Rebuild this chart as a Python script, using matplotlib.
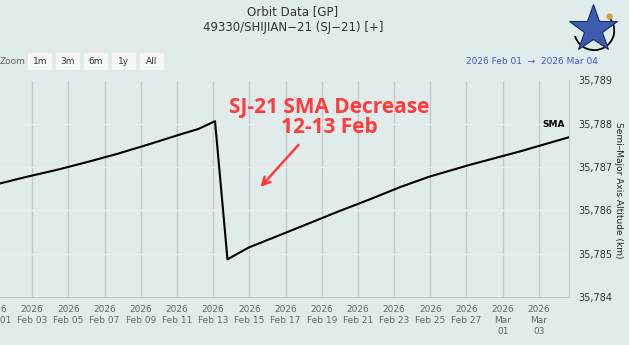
import numpy as np
import matplotlib
matplotlib.use("Agg")
import matplotlib.pyplot as plt
from matplotlib.patches import FancyBboxPatch, Arc

# SMA readings (km)
dates = np.array([
    "2026-02-01T00:00", "2026-02-02T17:45", "2026-02-04T09:40", "2026-02-06T01:40",
    "2026-02-07T17:40", "2026-02-09T09:40", "2026-02-11T01:40", "2026-02-12T04:20",
    "2026-02-13T02:30", "2026-02-13T19:00", "2026-02-14T22:50", "2026-02-16T15:00",
    "2026-02-18T07:00", "2026-02-19T22:50", "2026-02-21T15:00", "2026-02-23T06:50",
    "2026-02-24T22:50", "2026-02-27T04:00", "2026-03-01T22:30", "2026-03-04T16:00",
], dtype="datetime64[m]")
sma = [
    35786.60, 35786.78, 35786.94, 35787.12,
    35787.31, 35787.52, 35787.74, 35787.88,
    35788.06, 35784.87, 35785.14, 35785.42,
    35785.70, 35785.98, 35786.25, 35786.53,
    35786.78, 35787.05, 35787.36, 35787.69,
]

tick_dates = np.arange(np.datetime64("2026-02-01"), np.datetime64("2026-03-05"), 2)
tick_labels = ["2026\nFeb 01", "2026\nFeb 03", "2026\nFeb 05", "2026\nFeb 07", "2026\nFeb 09",
               "2026\nFeb 11", "2026\nFeb 13", "2026\nFeb 15", "2026\nFeb 17", "2026\nFeb 19",
               "2026\nFeb 21", "2026\nFeb 23", "2026\nFeb 25", "2026\nFeb 27", "2026\nMar\n01",
               "2026\nMar\n03"]
y_ticks = [35784, 35785, 35786, 35787, 35788, 35789]

bg = "#e0ecec"
W, H = 629, 345

fig = plt.figure(figsize=(W / 100, H / 100), dpi=100, facecolor=bg)
ax = fig.add_axes([-4 / W, 1 - 297 / H, 573 / W, 216.5 / H], facecolor=bg)

ax.plot(dates, sma, color="black", lw=1.5, zorder=3)

ax.set_xlim(np.datetime64("2026-02-01T01:30"), np.datetime64("2026-03-04T16:00"))
ax.set_ylim(35784, 35789)

ax.set_xticks(tick_dates)
ax.set_xticklabels(tick_labels, fontsize=6.5, color="#666666", linespacing=1.25)
ax.tick_params(axis="x", length=0, pad=6)
ax.set_yticks(y_ticks)
ax.set_yticklabels([f"{v:,}" for v in y_ticks], fontsize=7, color="#333333")
ax.yaxis.tick_right()
ax.tick_params(axis="y", length=0, pad=7)

fig.text(619 / W, 1 - 190 / H, "Semi\u2013Major Axis Altitude (km)", rotation=-90,
         ha="center", va="center", fontsize=6.5, color="#222222")

ax.grid(axis="x", color="#c8c8c8", lw=1)
ax.grid(axis="y", color="#ececec", lw=1)
ax.set_axisbelow(True)
for s in ["top", "left"]:
    ax.spines[s].set_visible(False)
ax.spines["bottom"].set_color("#c4c4c4")
ax.spines["right"].set_color("#c4c4c4")

# series label
ax.annotate("SMA", (dates[-1], sma[-1]), xytext=(-3, 6), textcoords="offset points",
            ha="right", va="bottom", fontsize=6.5, fontweight="bold")

# red annotation
ax.annotate("", xy=(np.datetime64("2026-02-15T12:15"), 35786.49),
            xytext=(np.datetime64("2026-02-17T19:40"), 35787.56),
            arrowprops=dict(arrowstyle="->", color="#ff3b3b", lw=1.8, mutation_scale=14))
ax.text(np.datetime64("2026-02-19T09:40"), 35788.15, "SJ-21 SMA Decrease\n12-13 Feb",
        ha="center", va="center", fontsize=15, fontweight="bold", color="#ff3b3b",
        family="Open Sans", linespacing=0.92)

# titles
fig.text(293 / W, 1 - 12 / H, "Orbit Data [GP]", ha="center", va="center", fontsize=8.5, color="#333333")
fig.text(293 / W, 1 - 27 / H, "49330/SHIJIAN\u221221 (SJ\u221221) [+]", ha="center", va="center",
         fontsize=8.5, color="#333333")

# range selector
fig.text(0, 1 - 61 / H, "Zoom", ha="left", va="center", fontsize=6.5, color="#666666")
for label, x0 in zip(["1m", "3m", "6m", "1y", "All"], [28, 56, 84, 112, 140]):
    fig.patches.append(FancyBboxPatch((x0 / W, 1 - 70 / H), 24 / W, 17 / H,
                                      boxstyle="round,pad=0,rounding_size=0.004",
                                      transform=fig.transFigure, fc="#f7f7f7", ec="none"))
    fig.text((x0 + 12) / W, 1 - 61 / H, label, ha="center", va="center", fontsize=6.5, color="#333333")
fig.text(598 / W, 1 - 61 / H, "2026 Feb 01  \u2192  2026 Mar 04", ha="right", va="center",
         fontsize=6.5, color="#4f4fc4")

# logo
lax = fig.add_axes([568 / W, 1 - 54 / H, 50 / W, 52 / H])
lax.set_xlim(-1, 1)
lax.set_ylim(-1, 1)
lax.axis("off")
lax.add_patch(Arc((0.05, -0.1), 1.6, 1.5, theta1=195, theta2=400, color="black", lw=1.3))
lax.plot([0], [-0.05], marker="*", markersize=36, color="#3c5cb0", mec="#1c2c60", mew=0.8,
         clip_on=False)
lax.plot([0.62], [0.45], "o", color="#d0a040", markersize=3.5, clip_on=False)

fig.savefig("out.png", dpi=100, facecolor=bg)
